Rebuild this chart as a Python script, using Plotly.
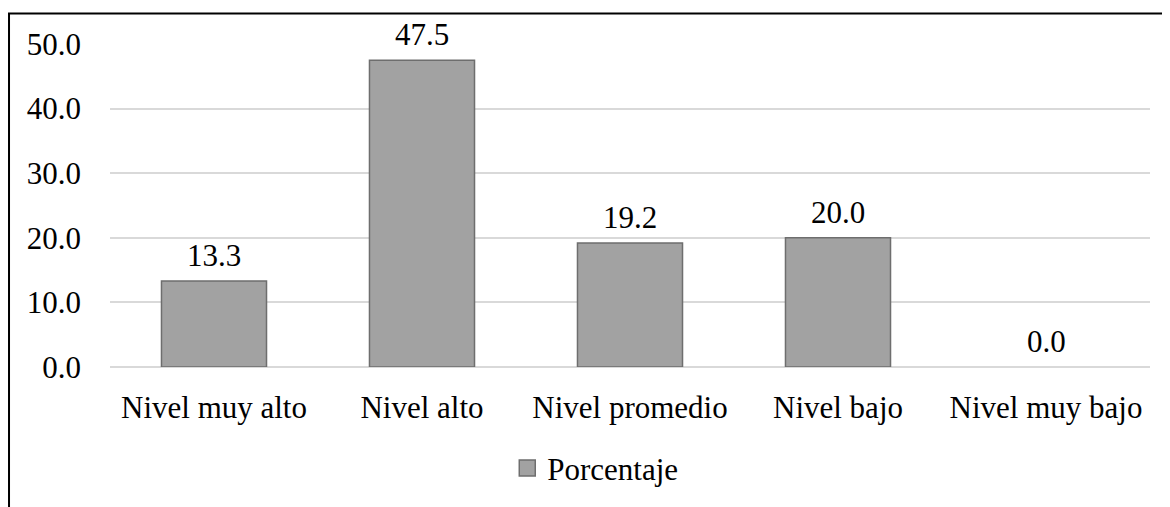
import plotly.graph_objects as go

categories = ["Nivel muy alto", "Nivel alto", "Nivel promedio", "Nivel bajo", "Nivel muy bajo"]
values = [13.3, 47.5, 19.2, 20.0, 0.0]
series_name = "Porcentaje"
y_ticks = [0, 10, 20, 30, 40, 50]

FONT = "Liberation Serif"
BAR_COLOR = "#a2a2a2"
EDGE_COLOR = "#6e6e6e"

# zero-height bars draw no outline (as in the reference)
edge_colors = [EDGE_COLOR if v != 0 else "rgba(0,0,0,0)" for v in values]

fig = go.Figure()
fig.add_trace(go.Bar(
    x=categories, y=values, name=series_name,
    marker=dict(color=BAR_COLOR, line=dict(color=edge_colors, width=1.5)),
    showlegend=False,
))
# legend entry (larger square swatch like the reference)
fig.add_trace(go.Scatter(
    x=[None], y=[None], mode="markers", name=series_name,
    marker=dict(symbol="square", size=16, color=BAR_COLOR,
                line=dict(color=EDGE_COLOR, width=1.5)),
    showlegend=True, hoverinfo="skip",
))

for c, v in zip(categories, values):
    fig.add_annotation(x=c, y=v, xref="x", yref="y", text=f"{v:.1f}",
                       showarrow=False, yanchor="bottom", yshift=6,
                       font=dict(family=FONT, size=31, color="#000000"))

fig.add_shape(type="rect", xref="paper", yref="paper",
              x0=-0.0971, x1=1.05, y0=-0.5, y1=1.0942,
              line=dict(color="#000000", width=2), fillcolor="rgba(0,0,0,0)", layer="above")

fig.update_layout(
    width=1162, height=499,
    margin=dict(l=102, r=20, t=36, b=134),
    paper_bgcolor="white", plot_bgcolor="white",
    font=dict(family=FONT, size=31, color="#000000"),
    bargap=0.495,
    xaxis=dict(showgrid=False, showline=False, ticks="", ticklabelstandoff=19,
               tickfont=dict(family=FONT, size=31, color="#000000")),
    yaxis=dict(range=[0, 50], tickvals=y_ticks, tickformat=".1f",
               showgrid=True, gridcolor="#d9d9d9", gridwidth=1.5,
               zeroline=True, zerolinecolor="#d9d9d9", zerolinewidth=1.5,
               showline=False, ticks="", ticklabelstandoff=28,
               tickfont=dict(family=FONT, size=31, color="#000000")),
    legend=dict(orientation="h", x=0.382, xanchor="left", y=-0.23, yanchor="top",
                font=dict(family=FONT, size=31, color="#000000"),
                itemwidth=30),
)

fig.write_html("out.html")
